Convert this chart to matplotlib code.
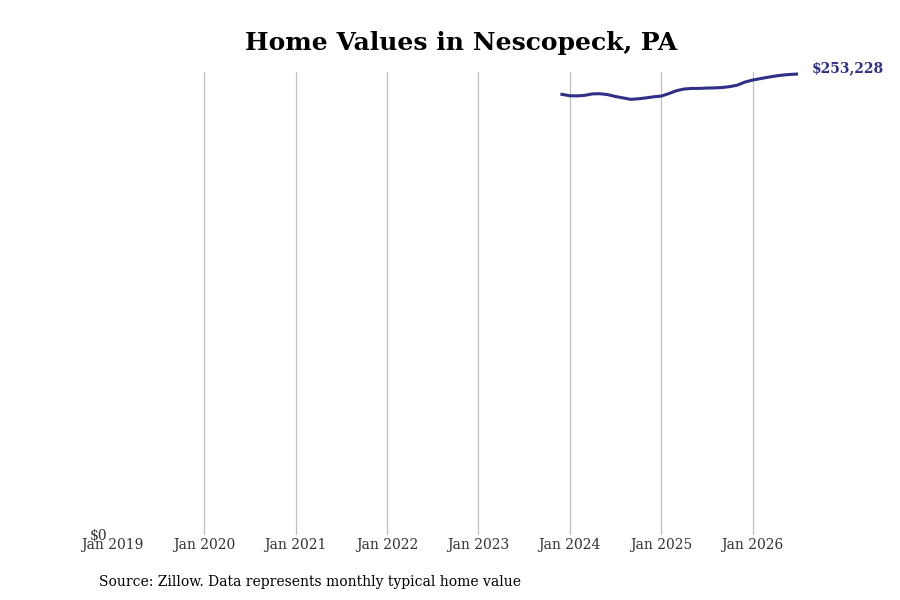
import numpy as np
import pandas as pd
import matplotlib
matplotlib.use('Agg')
import matplotlib.pyplot as plt
import matplotlib.dates as mdates

# monthly typical home value, Dec 2023 - Jul 2026
months = pd.date_range('2023-12-01', '2026-07-01', freq='MS')
values = [242050, 241300, 241200, 241500, 242300, 242400, 241900, 240900,
          240100, 239300, 239600, 240100, 240700, 241100, 242500, 244000,
          244950, 245300, 245300, 245500, 245600, 245800, 246300, 247100,
          248800, 249900, 250700, 251400, 252100, 252650, 253000, 253228]
tick_years = list(range(2019, 2027))

line_color = '#2f2f88'

plt.rcParams['font.family'] = 'DejaVu Serif'
fig = plt.figure(figsize=(9, 6), dpi=100)
ax = fig.add_axes([112.5 / 900, 1 - 535 / 600, 685.5 / 900, 463 / 600])

ax.plot(months, values, color=line_color, lw=2.2)
ax.set_xlim(pd.Timestamp('2019-01-01'), months[-1])
ax.set_ylim(0, 253228 * 463 / 461)

ax.set_xticks([pd.Timestamp(f'{y}-01-01') for y in tick_years])
ax.xaxis.set_major_formatter(mdates.DateFormatter('Jan %Y'))
ax.set_yticks([0])
ax.set_yticklabels(['$0'])
ax.tick_params(axis='both', length=0, labelsize=10, labelcolor='#333333')
ax.tick_params(axis='x', pad=2.5)
ax.tick_params(axis='y', pad=3.5)

ax.grid(axis='x', color='#c0c0c0', lw=0.9)
ax.xaxis.get_gridlines()[0].set_visible(False)
for s in ax.spines.values():
    s.set_visible(False)

ax.annotate(f'${values[-1]:,}', xy=(months[-1], values[-1]), xytext=(10, 4),
            textcoords='offset points', color=line_color, fontsize=10,
            fontweight='bold', va='center', ha='left', annotation_clip=False)

fig.text(461 / 900, 1 - 43 / 600, 'Home Values in Nescopeck, PA',
         ha='center', va='center', fontsize=18, fontweight='bold')
fig.text(99 / 900, 1 - 582 / 600, 'Source: Zillow. Data represents monthly typical home value',
         ha='left', va='center', fontsize=10)

fig.savefig('out.png', dpi=100)
